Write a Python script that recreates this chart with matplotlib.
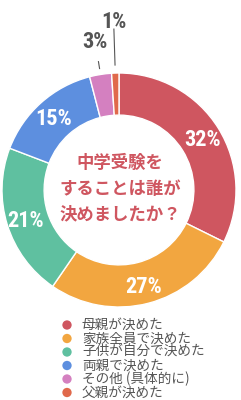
import matplotlib
matplotlib.use("Agg")
import matplotlib.pyplot as plt
from matplotlib import font_manager
import numpy as np

plt.rcParams['font.family'] = ['Noto Sans CJK JP', 'DejaVu Sans']

categories = ["母親が決めた", "家族全員で決めた", "子供が自分で決めた", "両親で決めた", "その他 (具体的に)", "父親が決めた"]
values = [32, 27, 21, 15, 3, 1]
pct_labels = ["32%", "27%", "21%", "15%", "3%", "1%"]
colors = ["#cf5660", "#f2a640", "#5fc0a0", "#5d8fdf", "#d480c0", "#e0694b"]
title_text = "中学受験を\nすることは誰が\n決めましたか？"

available = {f.name for f in font_manager.fontManager.ttflist}
num_font = None
for cand in ['Liberation Sans Narrow', 'DejaVu Sans Condensed', 'Roboto Condensed',
             'Open Sans Condensed', 'Noto Sans Condensed', 'Arial Narrow']:
    if cand in available:
        num_font = cand
        break
num_kw = dict(family=[num_font] if num_font else ['DejaVu Sans'])
if num_font is None:
    num_kw['stretch'] = 'condensed'

W, H = 241, 400
fig = plt.figure(figsize=(W / 100, H / 100), dpi=100)
ax = fig.add_axes([0, 0, 1, 1])

cx, cy, R = 119, 210, 117
wedges, _ = ax.pie(values, colors=colors, startangle=90, counterclock=False,
                   center=(cx, cy), radius=R, frame=True,
                   wedgeprops=dict(width=R * 0.36, edgecolor='white', linewidth=1))
ax.set_xlim(0, W)
ax.set_ylim(0, H)
ax.set_aspect('equal')
ax.axis('off')

fs = 16
cap = 0.72 * fs * 100 / 72
for w, lab, v in zip(wedges, pct_labels, values):
    ang = np.deg2rad((w.theta1 + w.theta2) / 2)
    if v >= 10:
        r = 98
        x, y = cx + r * np.cos(ang), cy + r * np.sin(ang)
        ax.text(x, y - cap / 2, lab, color='white', fontsize=fs, fontweight='bold',
                ha='center', va='baseline', **num_kw)
    else:
        r1, r2, r3 = (123, 130, 152) if v >= 2 else (125, 161, 170)
        ax.plot([cx + r1 * np.cos(ang), cx + r2 * np.cos(ang)],
                [cy + r1 * np.sin(ang), cy + r2 * np.sin(ang)],
                color='#555555', lw=0.8)
        ax.text(cx + r3 * np.cos(ang), cy + r3 * np.sin(ang) - cap / 2, lab,
                color='#555555', fontsize=fs, fontweight='bold',
                ha='center', va='baseline', **num_kw)

ax.text(cx + 1, cy + 1, title_text, color='#cf5660', fontsize=12.5, fontweight='bold',
        ha='center', va='center', linespacing=1.55)

# legend
y0 = H - 325
for i, (cat, col) in enumerate(zip(categories, colors)):
    y = y0 - i * 13.5
    ax.scatter([67], [y], s=45, color=col, edgecolors='none')
    ax.text(82, y, cat, color='#555555', fontsize=9.8, ha='left', va='center')

fig.savefig("out.png", dpi=100)
